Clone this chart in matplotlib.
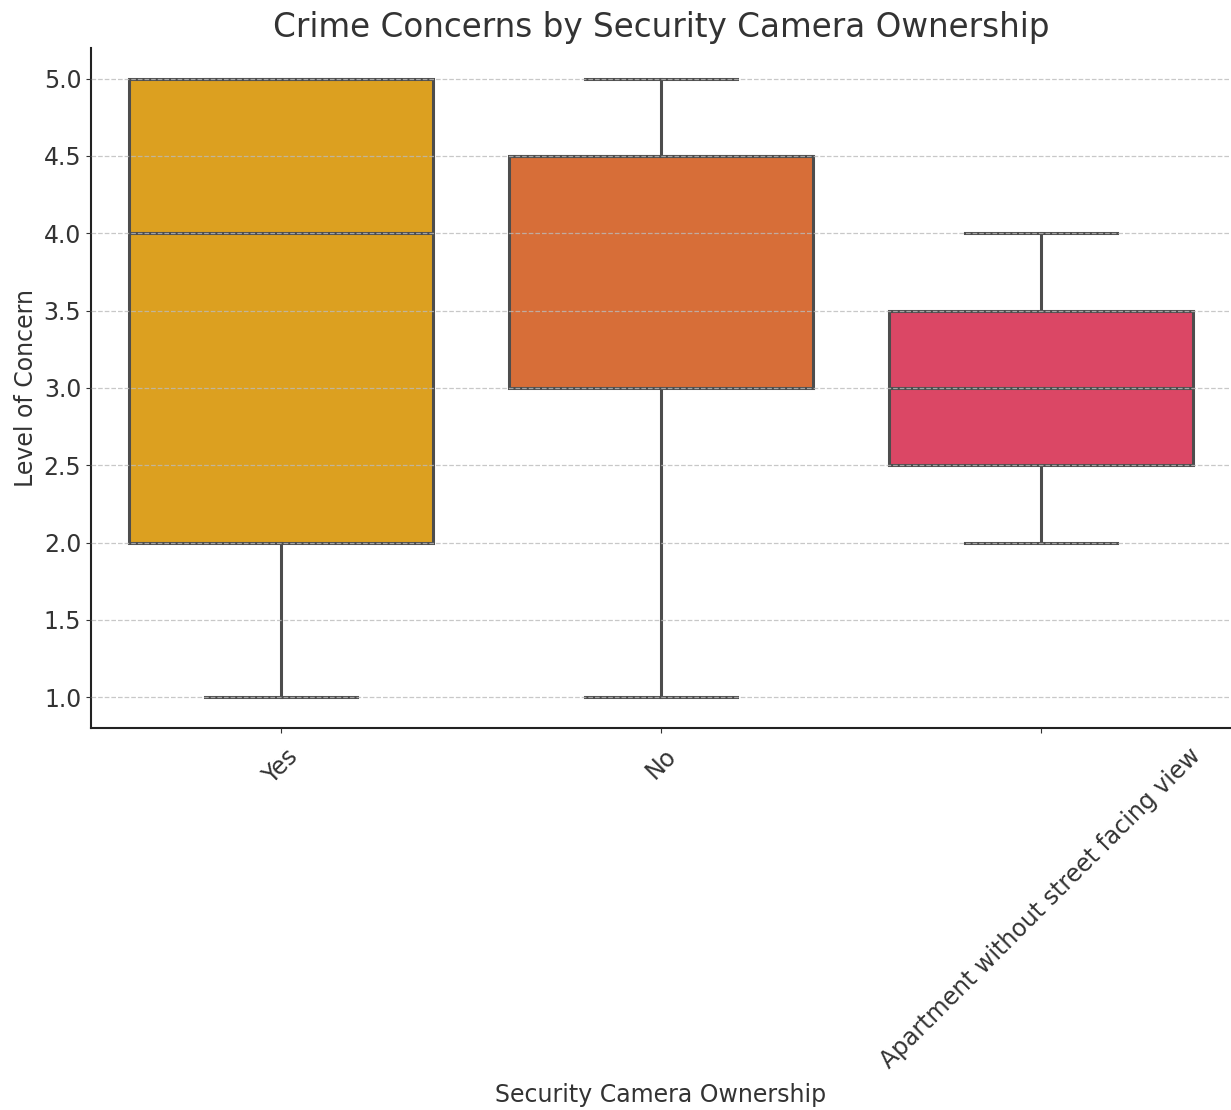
import matplotlib
matplotlib.use("Agg")
import matplotlib.pyplot as plt

categories = ["Yes", "No", "Apartment without street facing view"]
whisker_low = [1.0, 1.0, 2.0]
q1 = [2.0, 3.0, 2.5]
medians = [4.0, 4.5, 3.0]
q3 = [5.0, 4.5, 3.5]
whisker_high = [5.0, 5.0, 4.0]
colors = ["#DCA020", "#D76E38", "#DB4765"]

edge = "#4d4d4d"
text_col = "#333333"

stats = []
for i, name in enumerate(categories):
    stats.append({"label": name, "whislo": whisker_low[i], "q1": q1[i],
                  "med": medians[i], "q3": q3[i], "whishi": whisker_high[i],
                  "fliers": []})

fig = plt.figure(figsize=(12.31, 11.10), dpi=100)
ax = fig.add_axes([0.074, 0.344, 0.926, 0.613])

bp = ax.bxp(stats, positions=range(len(categories)), widths=0.8,
            patch_artist=True, showfliers=False,
            boxprops=dict(edgecolor=edge, linewidth=2.2),
            medianprops=dict(color=edge, linewidth=2.2),
            whiskerprops=dict(color=edge, linewidth=2.2),
            capprops=dict(color=edge, linewidth=2.2),
            capwidths=0.4)
for patch, c in zip(bp["boxes"], colors):
    patch.set_facecolor(c)

ax.set_xlim(-0.5, 2.5)
ax.set_ylim(0.8, 5.2)
ax.set_yticks([1.0, 1.5, 2.0, 2.5, 3.0, 3.5, 4.0, 4.5, 5.0])
ax.set_xticks(range(len(categories)))
ax.set_xticklabels(categories, rotation=45, fontsize=17, color=text_col)
ax.tick_params(axis="y", labelsize=17, labelcolor=text_col)
ax.tick_params(axis="x", pad=8)
ax.tick_params(colors=text_col)

ax.set_axisbelow(False)
ax.yaxis.grid(True, linestyle="--", color="#bbbbbb", linewidth=0.9, alpha=0.8)
ax.spines["top"].set_visible(False)
ax.spines["right"].set_visible(False)
ax.spines["left"].set_linewidth(1.5)
ax.spines["bottom"].set_linewidth(1.5)
ax.spines["left"].set_color("#222222")
ax.spines["bottom"].set_color("#222222")

ax.set_title("Crime Concerns by Security Camera Ownership", fontsize=23.5,
             color=text_col, pad=8)
ax.set_xlabel("Security Camera Ownership", fontsize=17, color=text_col,
              labelpad=7)
ax.set_ylabel("Level of Concern", fontsize=17, color=text_col)

fig.savefig("out.png", dpi=100)
